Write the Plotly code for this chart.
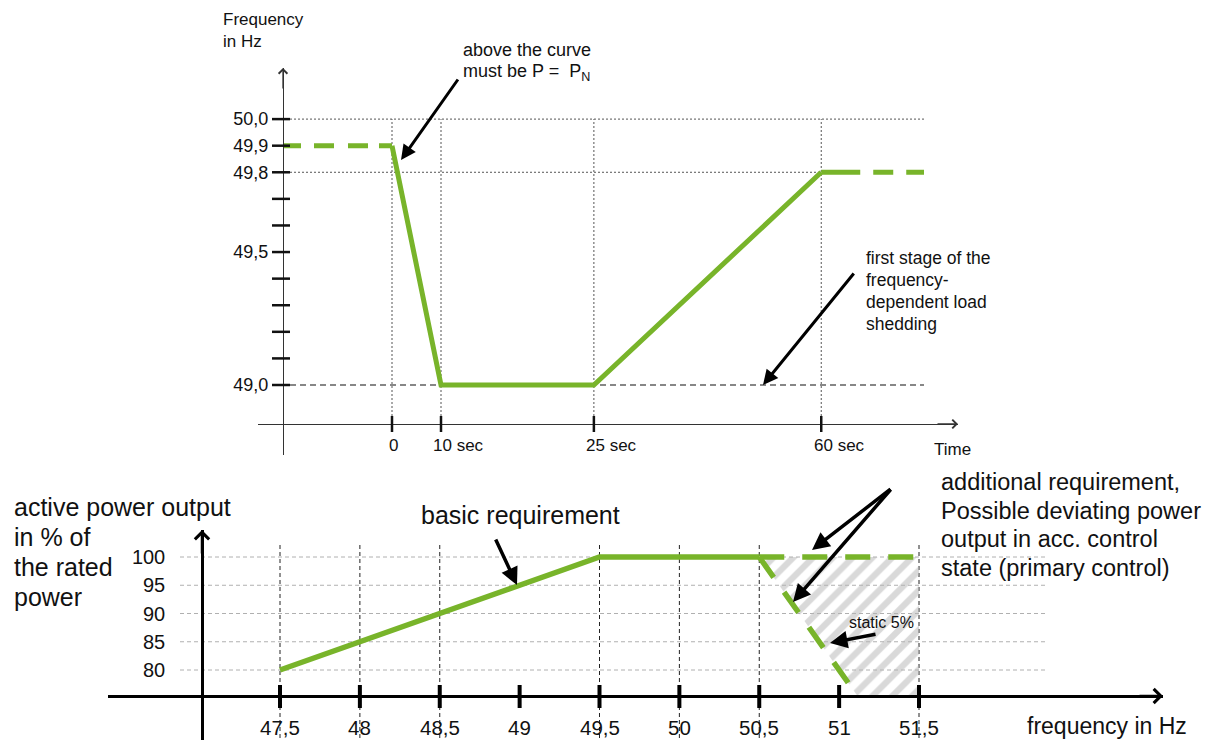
import plotly.graph_objects as go

W, H = 1215, 740
GREEN = "#78B42A"
FONT = "Liberation Sans, Arial, sans-serif"

# ---------------- data ----------------
# Top diagram: frequency over time (time axis is schematic, not to scale)
time_labels = ["0", "10 sec", "25 sec", "60 sec"]
time_pos = [0, 10, 41.2, 87.6]            # schematic positions of the time marks
curve_freq = [49.9, 49.0, 49.0, 49.8]     # frequency limit at those marks
freq_tick_vals = [50.0, 49.9, 49.8, 49.5, 49.0]
freq_tick_text = ["50,0", "49,9", "49,8", "49,5", "49,0"]
freq_minor = [49.7, 49.6, 49.4, 49.3, 49.2, 49.1]
shedding_freq = 49.0
top_grid_freq = [50.0, 49.8]

# Bottom diagram: active power output vs frequency
f_tick_vals = [47.5, 48, 48.5, 49, 49.5, 50, 50.5, 51, 51.5]
f_tick_text = ["47,5", "48", "48,5", "49", "49,5", "50", "50,5", "51", "51,5"]
f_grid = [47.5, 48, 48.5, 49.5, 50, 50.5, 51.5]
p_tick_vals = [100, 95, 90, 85, 80]
p_tick_text = ["100", "95", "90", "85", "80"]
basic_freq = [47.5, 49.5, 50.5]
basic_power = [80, 100, 100]
add_freq = [50.5, 51.5]
add_power = [100, 100]
droop_freq = [50.5, 51.075]
droop_power = [100, 77]
hatch_freq = [50.5, 51.5, 51.5, 51.115]
hatch_power = [100, 100, 75.4, 75.4]

# ---------------- layout helpers (pixel calibration of the schematic) ----------------
def PX(x): return x / W
def PY(y): return 1 - y / H
def tu(px): return (px - 392) / 4.9           # top time-axis units from pixel
def tf(py): return 49 + (385 - py) / 265.9    # top frequency from pixel
def bf(px): return 47.5 + (px - 280) / 159.75 # bottom frequency from pixel
def bp(py): return 80 + (670 - py) / 5.65     # bottom power from pixel

fig = go.Figure()

# ---- top curve ----
fig.add_trace(go.Scatter(x=[tu(283), time_pos[0]], y=[curve_freq[0]] * 2, mode="lines",
                         line=dict(color=GREEN, width=5, dash="18px,13px,20px,14px,20px,11px,20px"),
                         xaxis="x", yaxis="y", hoverinfo="skip"))
fig.add_trace(go.Scatter(x=time_pos, y=curve_freq, mode="lines",
                         line=dict(color=GREEN, width=5), xaxis="x", yaxis="y", hoverinfo="skip"))
fig.add_trace(go.Scatter(x=[time_pos[-1], tu(924)], y=[curve_freq[-1]] * 2, mode="lines",
                         line=dict(color=GREEN, width=5, dash="39px,13px,20px,13px,20px,13px"),
                         xaxis="x", yaxis="y", hoverinfo="skip"))

# ---- bottom curves ----
fig.add_trace(go.Scatter(x=hatch_freq, y=hatch_power, mode="lines", fill="toself",
                         line=dict(width=0, color="rgba(0,0,0,0)"),
                         fillcolor="rgba(255,255,255,0)",
                         fillpattern=dict(shape="/", fgcolor="#B4B4B4", bgcolor="rgba(255,255,255,0)",
                                          size=14, solidity=0.45),
                         xaxis="x2", yaxis="y2", hoverinfo="skip"))
fig.add_trace(go.Scatter(x=basic_freq, y=basic_power, mode="lines",
                         line=dict(color=GREEN, width=5.5), xaxis="x2", yaxis="y2", hoverinfo="skip"))
fig.add_trace(go.Scatter(x=add_freq, y=add_power, mode="lines",
                         line=dict(color=GREEN, width=5.5, dash="25px,18px"),
                         xaxis="x2", yaxis="y2", hoverinfo="skip"))
fig.add_trace(go.Scatter(x=droop_freq, y=droop_power, mode="lines",
                         line=dict(color=GREEN, width=5.5, dash="25px,18px"),
                         xaxis="x2", yaxis="y2", hoverinfo="skip"))

shapes = []
# top grid
for f in top_grid_freq:
    x1 = tu(924) if f == 50.0 else time_pos[-1]
    shapes.append(dict(type="line", xref="x", yref="y", x0=tu(290), x1=x1, y0=f, y1=f,
                       line=dict(color="#555", width=1, dash="2px,2px"), layer="below"))
shapes.append(dict(type="line", xref="x", yref="y", x0=tu(290), x1=tu(924), y0=shedding_freq, y1=shedding_freq,
                   line=dict(color="#111", width=1.2, dash="6px,4px"), layer="below"))
for u in time_pos:
    shapes.append(dict(type="line", xref="x", yref="y", x0=u, x1=u, y0=tf(424), y1=50.0,
                       line=dict(color="#555", width=1, dash="2px,2px"), layer="below"))
# top ticks
for f in freq_tick_vals + freq_minor:
    shapes.append(dict(type="line", xref="paper", yref="y", x0=PX(272), x1=PX(290), y0=f, y1=f,
                       line=dict(color="#111", width=2.5)))
for u in time_pos:
    shapes.append(dict(type="line", xref="x", yref="paper", x0=u, x1=u, y0=PY(432), y1=PY(416),
                       line=dict(color="#111", width=2.5)))
# bottom grid
for p in p_tick_vals:
    shapes.append(dict(type="line", xref="x2", yref="y2", x0=bf(180), x1=bf(1045), y0=p, y1=p,
                       line=dict(color="#B0B0B0", width=1, dash="4px,3px"), layer="below"))
for f in f_grid:
    shapes.append(dict(type="line", xref="x2", yref="y2", x0=f, x1=f, y0=bp(745), y1=bp(545),
                       line=dict(color="#222", width=1, dash="4px,3px"), layer="below"))
# bottom ticks
for f in f_tick_vals:
    shapes.append(dict(type="line", xref="x2", yref="paper", x0=f, x1=f, y0=PY(708), y1=PY(685),
                       line=dict(color="#000", width=4)))

ann = []
def txt(x, y, s, size, anchor="left", color="#111"):
    ann.append(dict(x=PX(x), y=PY(y), xref="paper", yref="paper", text=s, showarrow=False,
                    xanchor=anchor, yanchor="middle", font=dict(family=FONT, size=size, color=color)))

# top texts
txt(221, 20, "Frequency", 17)
txt(221, 42, "in Hz", 17)
txt(461, 50, "above the curve", 18)
txt(461, 72, "must be P =&nbsp; P<sub>N</sub>", 18)
for i, s in enumerate(["first stage of the", "frequency-", "dependent load", "shedding"]):
    txt(864, 258 + 22 * i, s, 17.5)
txt(932, 449, "Time", 17)
for lab, u in zip(time_labels, time_pos):
    ann.append(dict(x=u, y=PY(446), xref="x", yref="paper", text=lab, showarrow=False,
                    xanchor="left", yanchor="middle", xshift=-4.8 * len(lab.split()[0]),
                    font=dict(family=FONT, size=17, color="#111")))

# bottom texts
for i, s in enumerate(["active power output", "in % of", "the rated", "power"]):
    txt(12, 507 + 30 * i, s, 25)
txt(419, 515, "basic requirement", 25)
for i, s in enumerate(["additional requirement,", "Possible deviating power",
                       "output in acc. control", "state (primary control)"]):
    txt(939, 482 + 28.5 * i, s, 23.5)
txt(1025, 726, "frequency in Hz", 23)
txt(847, 622, "static 5%", 16)
for lab, f in zip(f_tick_text, f_tick_vals):
    ann.append(dict(x=f, y=PY(727), xref="x2", yref="paper", text=lab, showarrow=False,
                    xanchor="center", yanchor="middle", font=dict(family=FONT, size=20.5, color="#111")))

# axis arrow heads
def axis_arrow(x, y, ax, ay, w, s, color):
    ann.append(dict(x=PX(x), y=PY(y), xref="paper", yref="paper", ax=ax, ay=ay, text="",
                    showarrow=True, arrowhead=4, arrowwidth=w, arrowsize=s, arrowcolor=color))
axis_arrow(283, 68, 0, 22, 1.3, 1.3, "#333")
axis_arrow(958, 424, -22, 0, 1.3, 1.3, "#333")
axis_arrow(202, 530, 0, 25, 2.5, 1.1, "#000")
axis_arrow(1163, 696, -25, 0, 2.5, 1.1, "#000")

# pointer arrows (head in data coordinates, tail offset in pixels)
def pointer(x, y, xref, yref, ax, ay, w):
    ann.append(dict(x=x, y=y, xref=xref, yref=yref, ax=ax, ay=ay, text="", showarrow=True,
                    arrowhead=2, arrowwidth=w, arrowsize=1, arrowcolor="#000"))
pointer(tu(401), tf(160), "x", "y", 58, -82, 3)
pointer(tu(763), shedding_freq, "x", "y", 92, -113, 3)
pointer(bf(517), bp(585), "x2", "y2", -22, -47, 3.5)
pointer(bf(812), bp(550), "x2", "y2", 80, -62, 3.5)
pointer(bf(793), bp(602), "x2", "y2", 99, -114, 3.5)
pointer(bf(830), bp(643), "x2", "y2", 47, -9, 3.5)

fig.update_layout(
    width=W, height=H, margin=dict(l=0, r=0, t=0, b=0),
    paper_bgcolor="white", plot_bgcolor="rgba(0,0,0,0)", showlegend=False,
    font=dict(family=FONT, color="#111"),
    xaxis=dict(domain=[PX(258), PX(958)], range=[tu(258), tu(958)], anchor="free", position=PY(424),
               showline=True, linecolor="#333", linewidth=1.3, showgrid=False, zeroline=False,
               showticklabels=False, ticks=""),
    yaxis=dict(domain=[PY(455), PY(68)], range=[tf(455), tf(68)], anchor="free", position=PX(283),
               showline=True, linecolor="#333", linewidth=1.3, showgrid=False, zeroline=False,
               tickvals=freq_tick_vals, ticktext=freq_tick_text, ticks="outside", ticklen=11,
               tickcolor="rgba(0,0,0,0)", tickfont=dict(family=FONT, size=18, color="#111")),
    xaxis2=dict(domain=[PX(108), PX(1163)], range=[bf(108), bf(1163)], anchor="free", position=PY(696),
                showline=True, linecolor="#000", linewidth=2.5, showgrid=False, zeroline=False,
                showticklabels=False, ticks=""),
    yaxis2=dict(domain=[0, PY(530)], range=[bp(740), bp(530)], anchor="free", position=PX(202),
                showline=True, linecolor="#000", linewidth=2.5, showgrid=False, zeroline=False,
                tickvals=p_tick_vals, ticktext=p_tick_text, ticks="outside", ticklen=32,
                tickcolor="rgba(0,0,0,0)", tickfont=dict(family=FONT, size=20, color="#111")),
    shapes=shapes, annotations=ann,
)

fig.write_html("out.html", config={"displayModeBar": False},
               post_script="document.body.style.margin='0';document.body.style.overflow='hidden';")
